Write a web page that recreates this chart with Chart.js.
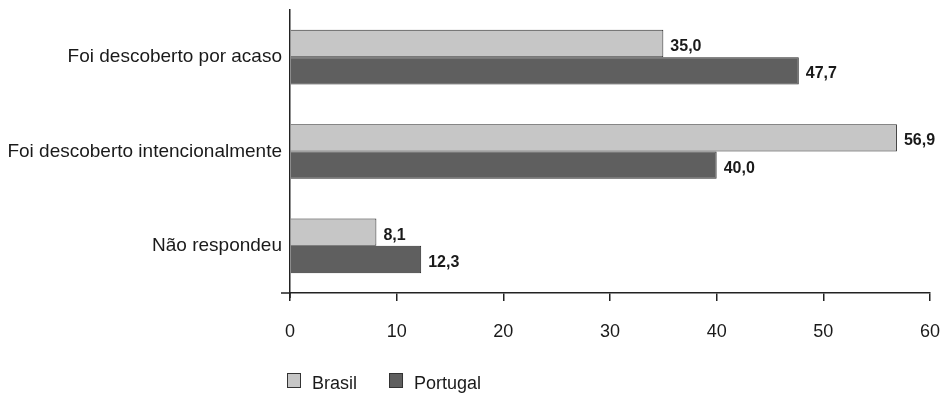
<!DOCTYPE html>
<html>
<head>
<meta charset="utf-8">
<script src="https://cdn.jsdelivr.net/npm/chart.js@4.4.1/dist/chart.umd.min.js"></script>
<style>
  html, body { margin: 0; padding: 0; background: #fff; }
  #wrap { width: 941px; height: 393px; position: relative; }
</style>
</head>
<body>
<div id="wrap"><canvas id="c" width="941" height="393"></canvas></div>
<script>
// Respostas por categoria (%)
const categories = ['Foi descoberto por acaso', 'Foi descoberto intencionalmente', 'Não respondeu'];
const brasil = [35.0, 56.9, 8.1];
const portugal = [47.7, 40.0, 12.3];
const seriesNames = ['Brasil', 'Portugal'];
const xMin = 0, xMax = 60, xStep = 10;

const FONT = '"Liberation Sans", Arial, Helvetica, sans-serif';
const fmt = v => v.toFixed(1).replace('.', ',');

// Value labels at the end of each bar
const valueLabels = {
  id: 'valueLabels',
  afterDatasetsDraw(chart) {
    const ctx = chart.ctx;
    ctx.save();
    ctx.font = 'bold 16px ' + FONT;
    ctx.fillStyle = '#1a1a1a';
    ctx.textAlign = 'left';
    ctx.textBaseline = 'middle';
    chart.data.datasets.forEach((ds, i) => {
      chart.getDatasetMeta(i).data.forEach((bar, j) => {
        ctx.fillText(fmt(ds.data[j]), bar.x + 7, bar.y + 3);
      });
    });
    ctx.restore();
  }
};

// Axis stubs and the legend below the axis labels
const extras = {
  id: 'extras',
  afterDraw(chart) {
    const ctx = chart.ctx;
    const a = chart.chartArea;
    ctx.save();
    ctx.strokeStyle = '#222';
    ctx.lineWidth = 1.5;
    ctx.beginPath();
    ctx.moveTo(a.left - 9, a.bottom);
    ctx.lineTo(a.left, a.bottom);
    ctx.moveTo(a.left, a.bottom);
    ctx.lineTo(a.left, a.bottom + 5);
    ctx.stroke();

    // legend
    let x = a.left - 3;
    const y = 373;
    ctx.font = '18px ' + FONT;
    ctx.textBaseline = 'alphabetic';
    chart.data.datasets.forEach((ds) => {
      ctx.fillStyle = ds.backgroundColor;
      ctx.fillRect(x, y, 14, 15);
      ctx.strokeStyle = '#333';
      ctx.lineWidth = 1;
      ctx.strokeRect(x + 0.5, y + 0.5, 13, 14);
      ctx.fillStyle = '#1a1a1a';
      ctx.fillText(ds.label, x + 25, y + 16);
      x += 25 + ctx.measureText(ds.label).width + 32;
    });
    ctx.restore();
  }
};

new Chart(document.getElementById('c'), {
  type: 'bar',
  data: {
    labels: categories,
    datasets: [
      { label: seriesNames[0], data: brasil, backgroundColor: '#c6c6c6', borderColor: '#2a2a2a', borderWidth: 1 },
      { label: seriesNames[1], data: portugal, backgroundColor: '#5f5f5f', borderColor: '#2a2a2a', borderWidth: 1 }
    ]
  },
  options: {
    indexAxis: 'y',
    responsive: false,
    animation: false,
    events: [],
    layout: { padding: { top: 10, right: 11, left: 0, bottom: 0 } },
    datasets: { bar: { categoryPercentage: 0.58, barPercentage: 1.0 } },
    plugins: {
      legend: { display: false },
      tooltip: { enabled: false }
    },
    scales: {
      x: {
        min: xMin,
        max: xMax,
        ticks: {
          stepSize: xStep,
          padding: 20,
          color: '#1a1a1a',
          font: { family: FONT, size: 18 },
          callback: v => String(v)
        },
        grid: { display: true, drawOnChartArea: false, drawTicks: true, tickLength: 8, color: '#222', lineWidth: 1.5 },
        border: { display: true, color: '#222', width: 1.5 },
        afterFit(scale) { scale.height = 100; scale.paddingLeft = 0; scale.paddingRight = 0; }
      },
      y: {
        ticks: {
          padding: 8,
          color: '#1a1a1a',
          font: { family: FONT, size: 19 }
        },
        grid: { display: false, drawTicks: false },
        border: { display: true, color: '#222', width: 1.5 },
        afterFit(scale) { scale.width = 290; scale.paddingTop = 0; scale.paddingBottom = 0; }
      }
    }
  },
  plugins: [valueLabels, extras]
});
</script>
</body>
</html>
